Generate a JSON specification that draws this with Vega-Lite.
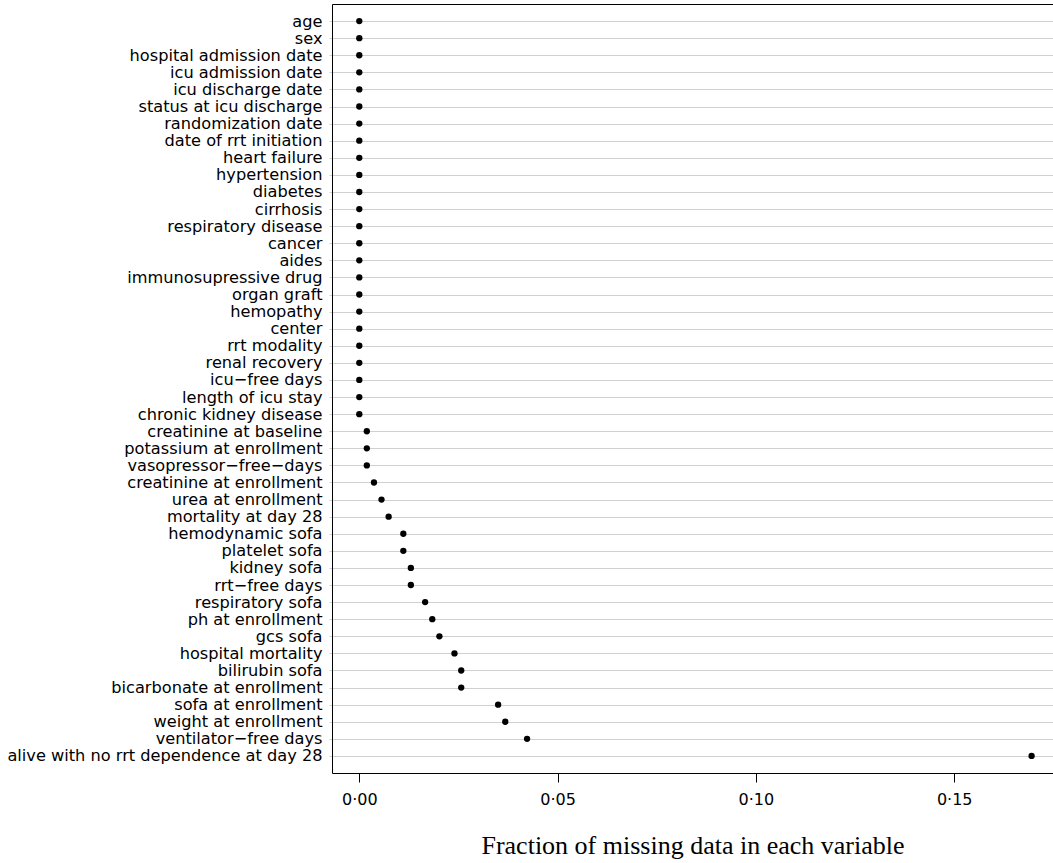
{
  "$schema": "https://vega.github.io/schema/vega-lite/v6.json",
  "autosize": "none",
  "padding": {"left": 332, "top": 4, "right": 0, "bottom": 90},
  "width": 721,
  "height": 769,
  "background": "white",
  "config": {"view": {"stroke": null}},
  "data": {"values": [
    {"variable": "age", "fraction": 0},
    {"variable": "sex", "fraction": 0},
    {"variable": "hospital admission date", "fraction": 0},
    {"variable": "icu admission date", "fraction": 0},
    {"variable": "icu discharge date", "fraction": 0},
    {"variable": "status at icu discharge", "fraction": 0},
    {"variable": "randomization date", "fraction": 0},
    {"variable": "date of rrt initiation", "fraction": 0},
    {"variable": "heart failure", "fraction": 0},
    {"variable": "hypertension", "fraction": 0},
    {"variable": "diabetes", "fraction": 0},
    {"variable": "cirrhosis", "fraction": 0},
    {"variable": "respiratory disease", "fraction": 0},
    {"variable": "cancer", "fraction": 0},
    {"variable": "aides", "fraction": 0},
    {"variable": "immunosupressive drug", "fraction": 0},
    {"variable": "organ graft", "fraction": 0},
    {"variable": "hemopathy", "fraction": 0},
    {"variable": "center", "fraction": 0},
    {"variable": "rrt modality", "fraction": 0},
    {"variable": "renal recovery", "fraction": 0},
    {"variable": "icu−free days", "fraction": 0},
    {"variable": "length of icu stay", "fraction": 0},
    {"variable": "chronic kidney disease", "fraction": 0},
    {"variable": "creatinine at baseline", "fraction": 0.0019},
    {"variable": "potassium at enrollment", "fraction": 0.0019},
    {"variable": "vasopressor−free−days", "fraction": 0.0019},
    {"variable": "creatinine at enrollment", "fraction": 0.0037},
    {"variable": "urea at enrollment", "fraction": 0.0056},
    {"variable": "mortality at day 28", "fraction": 0.0074},
    {"variable": "hemodynamic sofa", "fraction": 0.0111},
    {"variable": "platelet sofa", "fraction": 0.0111},
    {"variable": "kidney sofa", "fraction": 0.013},
    {"variable": "rrt−free days", "fraction": 0.013},
    {"variable": "respiratory sofa", "fraction": 0.0166},
    {"variable": "ph at enrollment", "fraction": 0.0184},
    {"variable": "gcs sofa", "fraction": 0.0202},
    {"variable": "hospital mortality", "fraction": 0.024},
    {"variable": "bilirubin sofa", "fraction": 0.0257},
    {"variable": "bicarbonate at enrollment", "fraction": 0.0257},
    {"variable": "sofa at enrollment", "fraction": 0.035},
    {"variable": "weight at enrollment", "fraction": 0.0368},
    {"variable": "ventilator−free days", "fraction": 0.0423},
    {"variable": "alive with no rrt dependence at day 28", "fraction": 0.1695}
  ]},
  "layer": [
    {
      "mark": {"type": "point", "filled": true, "color": "black", "opacity": 1, "size": 40},
      "encoding": {
        "x": {
          "field": "fraction", "type": "quantitative",
          "scale": {"domain": [-0.00688, 0.1749], "nice": false, "zero": false},
          "axis": {
            "orient": "bottom",
            "values": [0, 0.05, 0.1, 0.15],
            "labelExpr": "replace(format(datum.value, '.2f'), '.', '·')",
            "grid": false,
            "domain": true, "domainColor": "black", "domainWidth": 1,
            "ticks": true, "tickColor": "black", "tickSize": 9, "tickWidth": 1,
            "labelFont": "DejaVu Sans", "labelFontSize": 16, "labelColor": "black", "labelPadding": 9,
            "title": "Fraction of missing data in each variable",
            "titleFont": "Liberation Serif", "titleFontSize": 26, "titleFontWeight": "normal",
            "titleColor": "black", "titlePadding": 25
          }
        },
        "y": {
          "field": "variable", "type": "nominal", "sort": null,
          "scale": {"type": "point", "padding": 1},
          "axis": {
            "title": null,
            "grid": true, "gridColor": "#d0d0d0", "gridWidth": 1,
            "domain": true, "domainColor": "black", "domainWidth": 1,
            "ticks": true, "tickColor": "#d0d0d0", "tickSize": 3,
            "labelFont": "DejaVu Sans", "labelFontSize": 16.2, "labelColor": "black",
            "labelPadding": 7, "labelLimit": 400
          }
        }
      }
    },
    {
      "mark": {"type": "point", "opacity": 0},
      "encoding": {
        "x": {
          "field": "fraction", "type": "quantitative",
          "axis": {"orient": "top", "labels": false, "ticks": false, "grid": false, "domain": true, "domainColor": "black", "title": null}
        },
        "y": {"field": "variable", "type": "nominal", "sort": null}
      }
    }
  ],
  "resolve": {"axis": {"x": "independent"}}
}
